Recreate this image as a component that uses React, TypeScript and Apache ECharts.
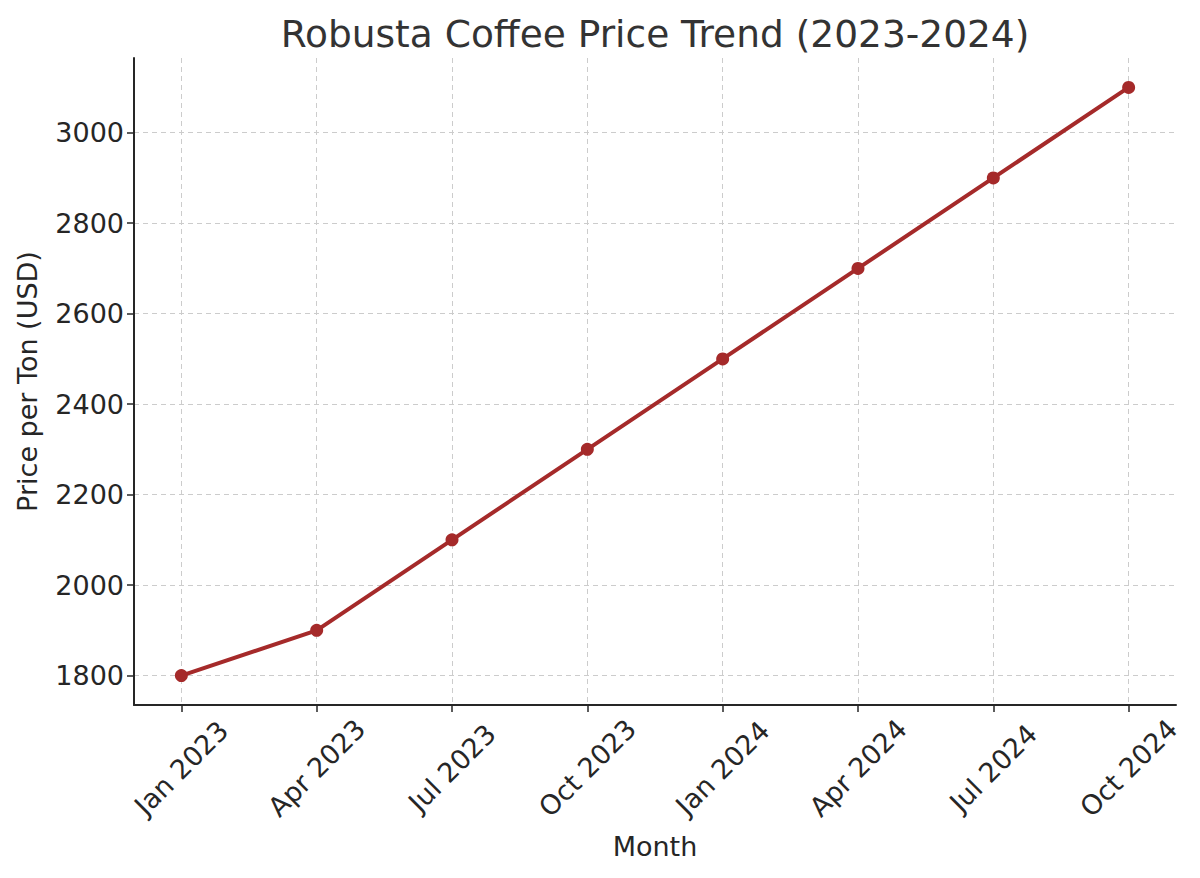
import React, { useEffect, useRef } from "react";
import * as echarts from "echarts";

const months = ["Jan 2023", "Apr 2023", "Jul 2023", "Oct 2023", "Jan 2024", "Apr 2024", "Jul 2024", "Oct 2024"];
const prices = [1800, 1900, 2100, 2300, 2500, 2700, 2900, 3100];
const yTicks = [1800, 2000, 2200, 2400, 2600, 2800, 3000];
const titleText = "Robusta Coffee Price Trend (2023-2024)";

export default function App() {
  const ref = useRef<HTMLDivElement>(null);
  useEffect(() => {
    if (!ref.current) return;
    const chart = echarts.init(ref.current, null, { renderer: "svg" });
    const xIdx = months.map((_, i) => i);
    const font = "DejaVu Sans";
    const pad = 0.05 * (months.length - 1);
    const yPad = 0.05 * (Math.max(...prices) - Math.min(...prices));
    chart.setOption({
      animation: false,
      backgroundColor: "#fff",
      textStyle: { fontFamily: font },
      title: {
        text: titleText,
        left: 650,
        textAlign: "center",
        top: 10,
        textStyle: { fontFamily: font, fontSize: 37.5, fontWeight: "normal", color: "#333" },
      },
      grid: { left: 134, right: 24, top: 58, bottom: 173, containLabel: false, outerBoundsMode: "none" },
      xAxis: {
        type: "value",
        min: -pad,
        max: months.length - 1 + pad,
        name: "Month",
        nameLocation: "middle",
        nameGap: 128,
        nameTextStyle: { fontFamily: font, fontSize: 27, color: "#262626" },
        axisLine: { show: true, onZero: false, lineStyle: { color: "#262626", width: 2 } },
        axisTick: { show: true, customValues: xIdx, length: 7, lineStyle: { color: "#262626", width: 1.5 } },
        axisLabel: {
          customValues: xIdx,
          formatter: (v: number) => months[Math.round(v)] ?? "",
          rotate: 45,
          align: "center",
          verticalAlign: "middle",
          fontFamily: font,
          fontSize: 27,
          color: "#262626",
          margin: 63,
        },
        splitLine: { show: true, lineStyle: { color: "#cccccc", type: [5, 4], width: 1 } },
      },
      yAxis: {
        type: "value",
        min: Math.min(...prices) - yPad,
        max: Math.max(...prices) + yPad,
        name: "Price per Ton (USD)",
        nameLocation: "middle",
        nameGap: 93,
        nameTextStyle: { fontFamily: font, fontSize: 27, color: "#262626" },
        axisLine: { show: true, onZero: false, lineStyle: { color: "#262626", width: 2 } },
        axisTick: { show: true, customValues: yTicks, length: 7, lineStyle: { color: "#262626", width: 1.5 } },
        axisLabel: {
          customValues: yTicks,
          formatter: (v: number) => String(v),
          fontFamily: font,
          fontSize: 27,
          color: "#262626",
          margin: 10,
        },
        splitLine: { show: true, lineStyle: { color: "#cccccc", type: [5, 4], width: 1 } },
      },
      series: [
        {
          type: "line",
          data: prices.map((p, i) => [i, p]),
          symbol: "circle",
          symbolSize: 13,
          lineStyle: { color: "#a52a2a", width: 4 },
          itemStyle: { color: "#a52a2a" },
          z: 5,
        },
      ],
    });
    return () => chart.dispose();
  }, []);
  return <div ref={ref} style={{ width: 1200, height: 878, position: "absolute", left: 0, top: 0 }} />;
}
